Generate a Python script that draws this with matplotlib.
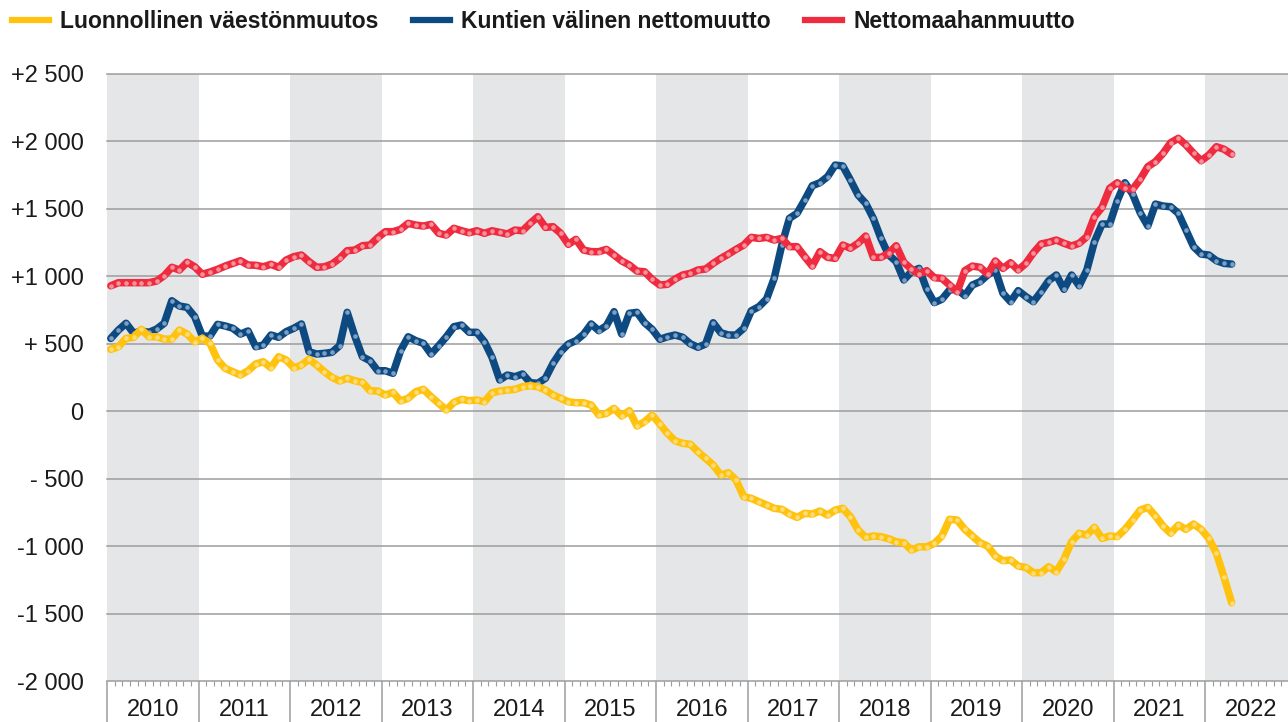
import matplotlib.pyplot as plt
import numpy as np
from matplotlib.lines import Line2D
from matplotlib import transforms

# monthly values, Jan 2010 .. Apr 2022
years = list(range(2010, 2023))

luonnollinen = [
    459, 478, 540, 548, 607, 552, 552, 535, 535, 602, 572, 515,
    540, 503, 380, 318, 293, 268, 300, 350, 367, 322, 404, 380,
    322, 342, 385, 342, 293, 251, 224, 244, 226, 214, 152, 150,
    120, 140, 76, 96, 145, 162, 108, 59, 9, 66, 88, 78,
    83, 70, 137, 150, 157, 162, 182, 189, 182, 157, 120, 96,
    70, 63, 63, 46, -28, -16, 21, -36, 4, -110, -78, -28,
    -95, -164, -219, -238, -245, -300, -350, -399, -473, -456, -510, -634,
    -646, -671, -695, -720, -727, -762, -787, -757, -762, -740, -770, -733,
    -720, -782, -881, -935, -925, -930, -945, -968, -975, -1029, -1005, -1005,
    -980, -925, -801, -807, -876, -925, -975, -1000, -1074, -1108, -1103, -1148,
    -1158, -1197, -1197, -1153, -1190, -1098, -968, -905, -918, -861, -943, -925,
    -930, -876, -807, -733, -713, -777, -851, -905, -844, -876, -836, -876,
    -943, -1054, -1232, -1420,
]

kuntien_valinen = [
    540, 602, 652, 578, 595, 585, 609, 652, 819, 780, 770, 701,
    557, 557, 644, 632, 615, 572, 595, 478, 491, 565, 548, 590,
    615, 647, 441, 424, 429, 437, 486, 733, 557, 404, 374, 300,
    300, 281, 449, 552, 523, 503, 424, 486, 552, 627, 639, 585,
    585, 515, 399, 232, 268, 256, 276, 212, 207, 244, 355, 441,
    498, 523, 570, 647, 597, 634, 738, 572, 726, 733, 656, 607,
    533, 552, 565, 548, 500, 474, 498, 656, 582, 565, 565, 615,
    745, 775, 832, 985, 1232, 1430, 1467, 1566, 1672, 1694, 1739, 1825,
    1818, 1714, 1603, 1541, 1430, 1281, 1160, 1109, 973, 1034, 1059, 904,
    805, 830, 899, 904, 857, 936, 960, 1010, 1047, 874, 812, 894,
    850, 812, 886, 968, 1010, 904, 1010, 930, 1047, 1257, 1388, 1388,
    1561, 1694, 1610, 1472, 1373, 1536, 1521, 1516, 1467, 1343, 1220, 1165,
    1158, 1116, 1096, 1091,
]

nettomaahanmuutto = [
    930, 953, 953, 953, 953, 953, 965, 1005, 1067, 1047, 1104, 1071,
    1015, 1032, 1052, 1076, 1096, 1116, 1084, 1082, 1071, 1089, 1067, 1121,
    1146, 1158, 1109, 1067, 1071, 1091, 1133, 1190, 1195, 1227, 1232, 1286,
    1331, 1331, 1348, 1393, 1380, 1373, 1385, 1319, 1306, 1356, 1338, 1323,
    1338, 1319, 1338, 1326, 1314, 1343, 1338, 1393, 1442, 1363, 1368, 1319,
    1237, 1274, 1195, 1183, 1183, 1200, 1158, 1114, 1084, 1039, 1034, 978,
    936, 941, 980, 1010, 1022, 1047, 1054, 1096, 1133, 1165, 1200, 1232,
    1289, 1281, 1289, 1269, 1281, 1220, 1220, 1146, 1076, 1183, 1141, 1133,
    1232, 1208, 1245, 1299, 1141, 1141, 1170, 1227, 1104, 1054, 1017, 1042,
    990, 985, 936, 886, 1042, 1076, 1067, 1017, 1114, 1059, 1101, 1047,
    1096, 1175, 1240, 1252, 1269, 1245, 1225, 1245, 1294, 1442, 1512, 1653,
    1694, 1653, 1645, 1719, 1813, 1850, 1912, 1991, 2023, 1974, 1912, 1857,
    1899, 1961, 1942, 1905,
]

series_names = ['Luonnollinen väestönmuutos', 'Kuntien välinen nettomuutto', 'Nettomaahanmuutto']

ytick_values = [2500, 2000, 1500, 1000, 500, 0, -500, -1000, -1500, -2000]
ytick_labels = ['+2 500', '+2 000', '+1 500', '+1 000', '+ 500', '0',
                '- 500', '-1 000', '-1 500', '-2 000']

LINE_COLORS = ['#FFC20F', '#0E4A82', '#EE2B3F']
DOT_COLORS = ['#FFDD78', '#7F9FC2', '#F4929C']
BAND = '#E5E6E8'
GRID = '#9C9C9C'

plt.rcParams['font.family'] = ['Liberation Sans', 'DejaVu Sans']

W, H = 1288, 722
fig = plt.figure(figsize=(W / 100, H / 100), dpi=100)
ax = fig.add_axes([107 / W, 1 - 681 / H, 1 - 107 / W, (681 - 74) / H])

px_per_month = 7.625
xmax = (W - 107) / px_per_month
ax.set_xlim(0, xmax)
ax.set_ylim(-2000, 2500)

# alternating year bands
for k, yr in enumerate(years):
    if yr % 2 == 0:
        ax.axvspan(12 * k, 12 * (k + 1), color=BAND, lw=0, zorder=0)

for v in ytick_values:
    ax.axhline(v, color=GRID, lw=1.1, zorder=0.5, clip_on=False)

months = np.arange(len(luonnollinen)) + 0.5
data = [luonnollinen, kuntien_valinen, nettomaahanmuutto]
zorders = [5, 3, 4]
for vals, lc, dc, z in zip(data, LINE_COLORS, DOT_COLORS, zorders):
    ax.plot(months, vals, color=lc, lw=5.4, marker='o', ms=3.3,
            mfc=dc, mec='none', solid_joinstyle='round',
            solid_capstyle='round', zorder=z)

for s in ax.spines.values():
    s.set_visible(False)

# x axis: year dividers + month ticks
ax.set_xticks([12 * k for k in range(len(years))])
ax.set_xticks(np.arange(0, xmax, 1), minor=True)
ax.tick_params(axis='x', which='major', length=30, width=1.1, color=GRID,
               labelbottom=False)
ax.tick_params(axis='x', which='minor', length=3.5, width=0.8, color=GRID)

trans = transforms.blended_transform_factory(ax.transData, ax.transAxes)
for k, yr in enumerate(years):
    ax.text(12 * k + 6, -0.048, str(yr), transform=trans, ha='center',
            va='center', fontsize=17, color='#1a1a1a')

ax.set_yticks(ytick_values, ytick_labels)
ax.tick_params(axis='y', length=0, pad=17, labelsize=17, labelcolor='#1a1a1a')

handles = [Line2D([], [], color=c, lw=4.5) for c in LINE_COLORS]
fig.legend(handles, series_names, loc='upper left',
           bbox_to_anchor=(12 / W, 1 - 10 / H), ncol=3, frameon=False,
           prop=dict(weight='bold', size=16.5), handlelength=1.6,
           handletextpad=0.5, columnspacing=1.5, borderpad=0,
           borderaxespad=0, labelcolor='#1a1a1a')

fig.savefig('out.png', dpi=100)
